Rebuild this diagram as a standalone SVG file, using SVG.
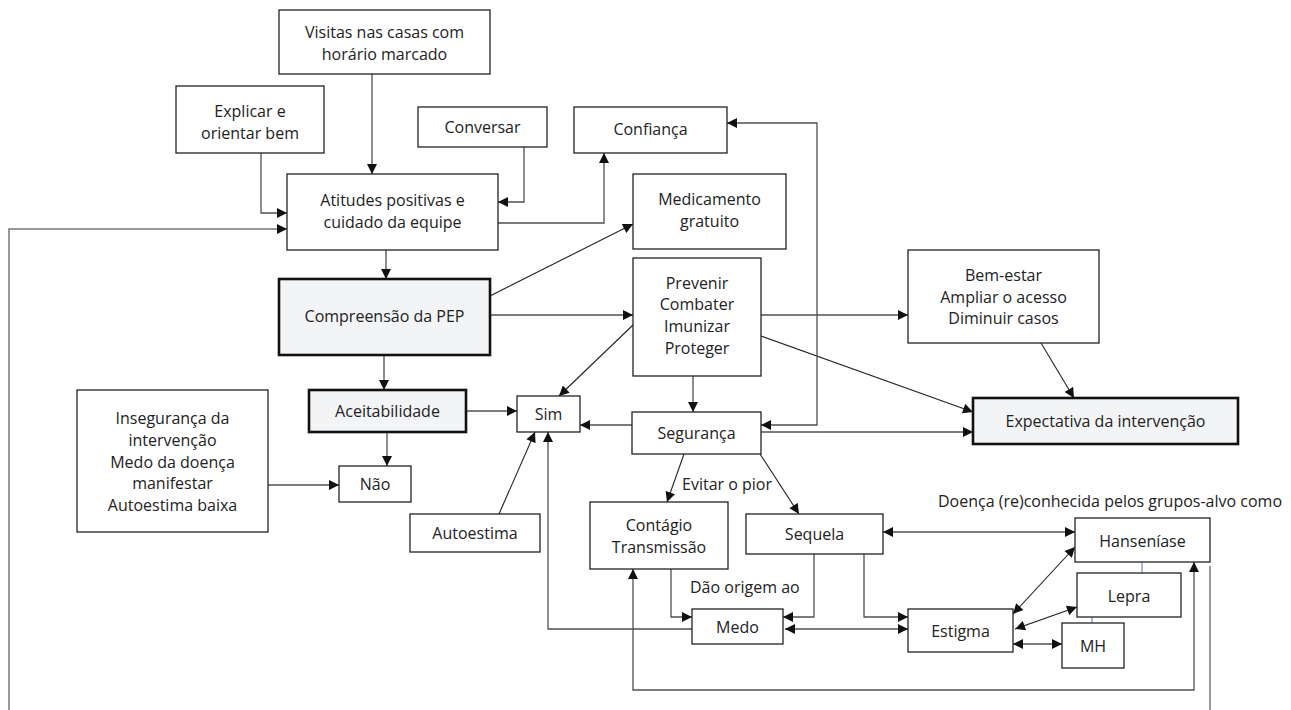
<svg xmlns="http://www.w3.org/2000/svg" width="1291" height="710" viewBox="0 0 1291 710">
<defs>
<style>
.n{fill:#fff;stroke:#222;stroke-width:1.3}
.k{fill:#f3f4f6;stroke:#111;stroke-width:2.6}
text{font-family:"Open Sans","Noto Sans","DejaVu Sans",sans-serif;font-size:16px;fill:#222;text-anchor:middle}
.l{text-anchor:start}
.c{fill:none;stroke:#505050;stroke-width:1.3}
.d{fill:none;stroke:#222;stroke-width:1.1}
.g{fill:none;stroke:#777;stroke-width:1.5}
.b{fill:none;stroke:#6f8fd0;stroke-width:1.2}
</style>
<marker id="a" viewBox="0 0 10 10" refX="10" refY="5" markerWidth="11" markerHeight="10" markerUnits="userSpaceOnUse" orient="auto-start-reverse">
<path d="M0,0 L10,5 L0,10 z" fill="#111"/>
</marker>
</defs>
<rect width="1291" height="710" fill="#fff"/>
<g id="connectors">
<path class="c" d="M372 74 V174" marker-end="url(#a)"/>
<path class="c" d="M261 153 V213 H287" marker-end="url(#a)"/>
<path class="c" d="M524 147 V202 H498" marker-end="url(#a)"/>
<path class="c" d="M498 223 H604 V153" marker-end="url(#a)"/>
<path class="c" d="M386 250 V279" marker-end="url(#a)"/>
<path class="d" d="M490 296 L633 224" marker-end="url(#a)"/>
<path class="c" d="M490 315 H633" marker-end="url(#a)"/>
<path class="c" d="M761 315 H908" marker-end="url(#a)"/>
<path class="d" d="M1041 343 L1074 398" marker-end="url(#a)"/>
<path class="d" d="M761 336 L973 412" marker-end="url(#a)"/>
<path class="d" d="M633 325 L559 396" marker-end="url(#a)"/>
<path class="c" d="M693 376 V412" marker-end="url(#a)"/>
<path class="c" d="M632 425 H580" marker-end="url(#a)"/>
<path class="c" d="M761 432 H973" marker-end="url(#a)"/>
<path class="c" d="M727 123 H817 V425 H761" marker-start="url(#a)" marker-end="url(#a)"/>
<path class="c" d="M384 355 V390" marker-end="url(#a)"/>
<path class="c" d="M466 411 H517" marker-end="url(#a)"/>
<path class="c" d="M387 432 V466" marker-end="url(#a)"/>
<path class="c" d="M268 485 H339" marker-end="url(#a)"/>
<path class="d" d="M499 514 L535 432" marker-end="url(#a)"/>
<path class="c" d="M692 629 H548 V432" marker-end="url(#a)"/>
<path class="d" d="M684 454 L667 502" marker-end="url(#a)"/>
<path class="d" d="M760 454 L799 514" marker-end="url(#a)"/>
<path class="c" d="M671 569 V617 H692" marker-end="url(#a)"/>
<path class="c" d="M814 554 V617 H783" marker-end="url(#a)"/>
<path class="c" d="M864 554 V617 H908" marker-end="url(#a)"/>
<path class="c" d="M785 629 H908" marker-start="url(#a)" marker-end="url(#a)"/>
<path class="c" d="M883 532 H1075" marker-start="url(#a)" marker-end="url(#a)"/>
<path class="d" d="M1013 614 L1075 547" marker-start="url(#a)" marker-end="url(#a)"/>
<path class="d" d="M1015 629 L1077 607" marker-start="url(#a)" marker-end="url(#a)"/>
<path class="c" d="M1013 644 H1062" marker-start="url(#a)" marker-end="url(#a)"/>
<path class="c" d="M633 569 V690 H1194 V562" marker-start="url(#a)" marker-end="url(#a)"/>
<path class="g" d="M1210 566 V720 H9 V229 H287" marker-end="url(#a)"/>
<path class="b" d="M1142 562 V573"/>
<path class="b" d="M1092 617 V623"/>
</g>
<g id="visitas"><rect class="n" x="279" y="10" width="211" height="64"/><text x="384.5" y="38">Visitas nas casas com</text><text x="384.5" y="60">horário marcado</text></g>
<g id="explicar"><rect class="n" x="176" y="86" width="148" height="67"/><text x="250" y="117">Explicar e</text><text x="250" y="139">orientar bem</text></g>
<g id="conversar"><rect class="n" x="418" y="107" width="129" height="40"/><text x="482.5" y="133">Conversar</text></g>
<g id="confianca"><rect class="n" x="574" y="107" width="153" height="46"/><text x="650.5" y="135">Confiança</text></g>
<g id="atitudes"><rect class="n" x="287" y="174" width="211" height="76"/><text x="392.5" y="206">Atitudes positivas e</text><text x="392.5" y="228">cuidado da equipe</text></g>
<g id="medicamento"><rect class="n" x="633" y="174" width="153" height="75"/><text x="709.5" y="205">Medicamento</text><text x="709.5" y="227">gratuito</text></g>
<g id="compreensao"><rect class="k" x="279" y="279" width="211" height="76"/><text x="384.5" y="322">Compreensão da PEP</text></g>
<g id="prevenir"><rect class="n" x="633" y="258" width="128" height="118"/><text x="697" y="289">Prevenir</text><text x="697" y="310">Combater</text><text x="697" y="332">Imunizar</text><text x="697" y="354">Proteger</text></g>
<g id="bemestar"><rect class="n" x="908" y="250" width="191" height="93"/><text x="1003.5" y="281">Bem-estar</text><text x="1003.5" y="303">Ampliar o acesso</text><text x="1003.5" y="324">Diminuir casos</text></g>
<g id="expectativa"><rect class="k" x="973" y="398" width="265" height="46"/><text x="1105.5" y="427">Expectativa da intervenção</text></g>
<g id="aceitabilidade"><rect class="k" x="309" y="390" width="157" height="42"/><text x="387.5" y="417">Aceitabilidade</text></g>
<g id="sim"><rect class="n" x="517" y="396" width="63" height="36"/><text x="548.5" y="420">Sim</text></g>
<g id="seguranca"><rect class="n" x="632" y="412" width="129" height="42"/><text x="696.5" y="439">Segurança</text></g>
<g id="nao"><rect class="n" x="339" y="466" width="72" height="36"/><text x="375" y="490">Não</text></g>
<g id="inseguranca"><rect class="n" x="77" y="390" width="191" height="142"/><text x="172.5" y="424">Insegurança da</text><text x="172.5" y="446">intervenção</text><text x="172.5" y="468">Medo da doença</text><text x="172.5" y="489">manifestar</text><text x="172.5" y="511">Autoestima baixa</text></g>
<g id="autoestima"><rect class="n" x="410" y="514" width="130" height="38"/><text x="475" y="539">Autoestima</text></g>
<g id="contagio"><rect class="n" x="590" y="502" width="138" height="67"/><text x="659" y="531">Contágio</text><text x="659" y="553">Transmissão</text></g>
<g id="sequela"><rect class="n" x="746" y="514" width="137" height="40"/><text x="814.5" y="540">Sequela</text></g>
<g id="hanseniase"><rect class="n" x="1075" y="518" width="135" height="44"/><text x="1142.5" y="547">Hanseníase</text></g>
<g id="lepra"><rect class="n" x="1077" y="573" width="104" height="44"/><text x="1129" y="602">Lepra</text></g>
<g id="mh"><rect class="n" x="1062" y="623" width="62" height="45"/><text x="1093" y="652">MH</text></g>
<g id="estigma"><rect class="n" x="908" y="609" width="105" height="43"/><text x="960.5" y="637">Estigma</text></g>
<g id="medo"><rect class="n" x="692" y="609" width="91" height="35"/><text x="737.5" y="633">Medo</text></g>
<g id="labels">
<text class="l" x="682" y="490">Evitar o pior</text>
<text class="l" x="690" y="593">Dão origem ao</text>
<text class="l" x="938" y="507">Doença (re)conhecida pelos grupos-alvo como</text>
</g>
</svg>
